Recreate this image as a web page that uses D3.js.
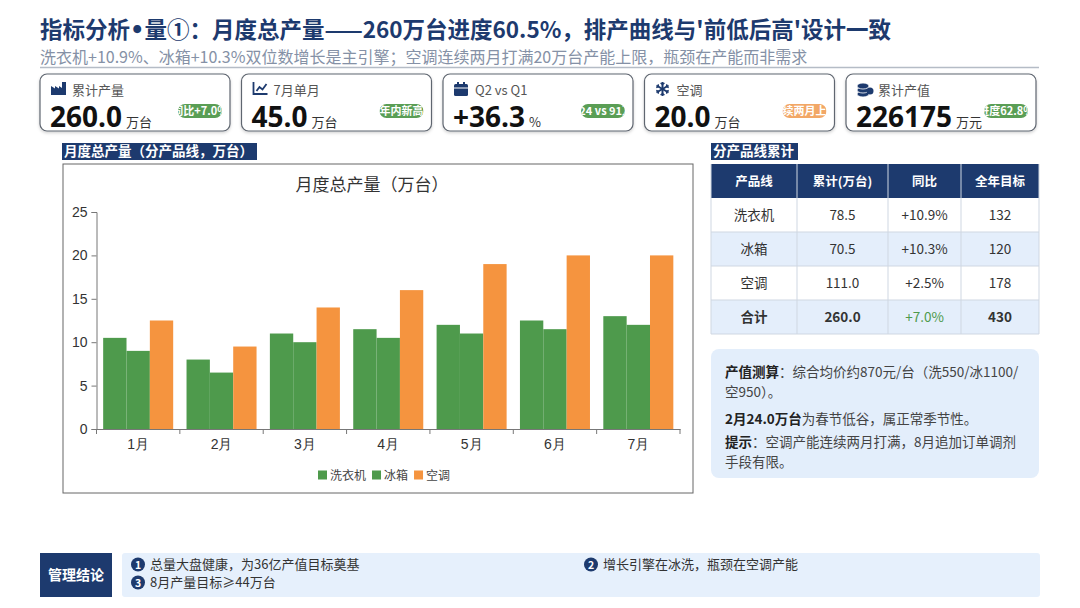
<!DOCTYPE html>
<html>
<head>
<meta charset="utf-8">
<script src="https://cdn.jsdelivr.net/npm/d3@7"></script>
<style>
  body { margin: 0; background: #fff; }
  svg { display: block; font-family: "Noto Sans CJK SC", "Noto Sans", sans-serif; }
</style>
</head>
<body>
<div id="canvas"></div>
<script>
"use strict"

/* chart data */
const months = ["1月", "2月", "3月", "4月", "5月", "6月", "7月"];
const seriesNames = ["洗衣机", "冰箱", "空调"];
const washer = [10.5, 8, 11, 11.5, 12, 12.5, 13];
const fridge = [9, 6.5, 10, 10.5, 11, 11.5, 12];
const aircon = [12.5, 9.5, 14, 16, 19, 20, 20];
const yTicks = [0, 5, 10, 15, 20, 25];

/* kpi cards */
const kpiLabels = ["累计产量", "7月单月", "Q2 vs Q1", "空调", "累计产值"];
const kpiValues = ["260.0", "45.0", "+36.3", "20.0", "226175"];
const kpiUnits = ["万台", "万台", "%", "万台", "万元"];
const kpiBadges = ["同比+7.0%", "年内新高", "124 vs 91万", "连续两月上限", "进度62.8%"];
const kpiBadgeKinds = ["good", "good", "good", "warn", "good"];

/* table */
const tableHeaders = ["产品线", "累计(万台)", "同比", "全年目标"];
const lineNames = ["洗衣机", "冰箱", "空调", "合计"];
const lineTotals = ["78.5", "70.5", "111.0", "260.0"];
const lineYoY = ["+10.9%", "+10.3%", "+2.5%", "+7.0%"];
const lineTargets = ["132", "120", "178", "430"];

/* footer conclusions */
const conclusions = ["总量大盘健康，为36亿产值目标奠基", "增长引擎在冰洗，瓶颈在空调产能", "8月产量目标≥44万台"];

const navy = "#1d3a6e";
const green = "#4e9a4c";
const orange = "#f5943f";

let drawing = d3.select("#canvas")
    .append("svg")
    .attr("width", 1080)
    .attr("height", 608);

let defs = drawing.append("defs");
let shadow = defs.append("filter").attr("id", "shadow").attr("x", "-10%").attr("y", "-10%").attr("width", "120%").attr("height", "140%");
shadow.append("feDropShadow").attr("dx", 0).attr("dy", 1.5).attr("stdDeviation", 1.5).attr("flood-color", "#000").attr("flood-opacity", 0.18);

/* ---------- header ---------- */
let title = drawing.append("text")
    .attr("x", 40).attr("y", 37.5)
    .attr("font-size", 22.5).attr("font-weight", "bold")
    .attr("fill", navy);
title.append("tspan").text("指标分析");
title.append("tspan").attr("font-family", "DejaVu Sans").text("•");
title.append("tspan").text("量①：月度总产量——260万台进度60.5%，排产曲线与'前低后高'设计一致");

drawing.append("text")
    .attr("x", 40).attr("y", 63)
    .attr("font-size", 16)
    .attr("fill", "#8591a6")
    .text("洗衣机+10.9%、冰箱+10.3%双位数增长是主引擎；空调连续两月打满20万台产能上限，瓶颈在产能而非需求");

drawing.append("line")
    .attr("x1", 40).attr("x2", 1039)
    .attr("y1", 67.5).attr("y2", 67.5)
    .attr("stroke", "#b5bcc6").attr("stroke-width", 1.5);

/* ---------- kpi cards ---------- */
function drawIcon(g, i, x, y) {
    if (i == 0) { // factory
        g.append("path")
            .attr("d", `M${x},${y + 13} V${y + 4} L${x + 4},${y + 6.5} V${y + 4} L${x + 8},${y + 6.5} V${y + 4} L${x + 11},${y + 6} V${y} H${x + 15} V${y + 13} Z`)
            .attr("fill", navy);
    } else if (i == 1) { // line chart
        g.append("path")
            .attr("d", `M${x + 1},${y} V${y + 12} H${x + 15}`)
            .attr("fill", "none").attr("stroke", navy).attr("stroke-width", 1.8);
        g.append("path")
            .attr("d", `M${x + 4},${y + 9} L${x + 7},${y + 5} L${x + 10},${y + 7.5} L${x + 14},${y + 2}`)
            .attr("fill", "none").attr("stroke", navy).attr("stroke-width", 1.8);
    } else if (i == 2) { // calendar
        g.append("rect").attr("x", x).attr("y", y + 2).attr("width", 14).attr("height", 12).attr("rx", 1.5).attr("fill", navy);
        g.append("rect").attr("x", x + 3).attr("y", y).attr("width", 2).attr("height", 4).attr("fill", navy);
        g.append("rect").attr("x", x + 9).attr("y", y).attr("width", 2).attr("height", 4).attr("fill", navy);
        g.append("line").attr("x1", x).attr("x2", x + 14).attr("y1", y + 6).attr("y2", y + 6).attr("stroke", "#fff").attr("stroke-width", 1);
    } else if (i == 3) { // snowflake
        let cx = x + 7, cy = y + 7;
        [30, 90, 150].forEach(a => {
            let r = a * Math.PI / 180;
            g.append("line")
                .attr("x1", cx - 7 * Math.cos(r)).attr("y1", cy - 7 * Math.sin(r))
                .attr("x2", cx + 7 * Math.cos(r)).attr("y2", cy + 7 * Math.sin(r))
                .attr("stroke", navy).attr("stroke-width", 2);
        });
        [30, 90, 150, 210, 270, 330].forEach(a => {
            let r = a * Math.PI / 180;
            let px = cx + 4.5 * Math.cos(r), py = cy + 4.5 * Math.sin(r);
            [r + 0.9, r - 0.9].forEach(b => {
                g.append("line")
                    .attr("x1", px).attr("y1", py)
                    .attr("x2", px + 2.5 * Math.cos(b)).attr("y2", py + 2.5 * Math.sin(b))
                    .attr("stroke", navy).attr("stroke-width", 1.3);
            });
        });
    } else { // coins
        [9, 5, 1].forEach(d => {
            g.append("ellipse").attr("cx", x + 6).attr("cy", y + d + 3).attr("rx", 6).attr("ry", 3)
                .attr("fill", navy).attr("stroke", "#fff").attr("stroke-width", 0.8);
        });
        g.append("circle").attr("cx", x + 13).attr("cy", y + 9).attr("r", 3.5).attr("fill", navy);
    }
}

const cardW = 190, cardH = 57, cardY = 74;
kpiLabels.forEach((label, i) => {
    let x0 = 40 + i * 201.5;
    let g = drawing.append("g");
    g.append("rect")
        .attr("x", x0).attr("y", cardY)
        .attr("width", cardW).attr("height", cardH)
        .attr("rx", 7)
        .attr("fill", "#fff")
        .attr("stroke", "#5f6670").attr("stroke-width", 1.2)
        .attr("filter", "url(#shadow)");

    drawIcon(g, i, x0 + 11, 82);

    g.append("text")
        .attr("x", x0 + 32).attr("y", 95)
        .attr("font-size", 13).attr("fill", "#555")
        .text(label);

    let val = g.append("text")
        .attr("x", x0 + 10).attr("y", 127)
        .attr("font-family", "'Open Sans', sans-serif")
        .attr("font-size", 28).attr("font-weight", "bold").attr("fill", "#111")
        .text(kpiValues[i]);
    let vw = val.node().getComputedTextLength();

    g.append("text")
        .attr("x", x0 + 10 + vw + 4).attr("y", 127)
        .attr("font-size", 13).attr("fill", "#333")
        .text(kpiUnits[i]);

    /* badge: text wider than the pill gets clipped */
    let bx = x0 + cardW - 52, by = 104, bw = 44, bh = 14;
    defs.append("clipPath").attr("id", "badge" + i)
        .append("rect").attr("x", bx).attr("y", by).attr("width", bw).attr("height", bh).attr("rx", 7);
    let bg = g.append("g").attr("clip-path", `url(#badge${i})`);
    bg.append("rect")
        .attr("x", bx).attr("y", by).attr("width", bw).attr("height", bh)
        .attr("fill", kpiBadgeKinds[i] == "warn" ? "#f2a766" : "#5a9e55");
    bg.append("text")
        .attr("x", bx + bw / 2).attr("y", by + 11)
        .attr("text-anchor", "middle")
        .attr("font-size", 11).attr("font-weight", "bold").attr("fill", "#fff")
        .text(kpiBadges[i]);
});

/* ---------- section tags ---------- */
function sectionTag(x, y, label) {
    let t = drawing.append("text")
        .attr("x", x + 2).attr("y", y + 13)
        .attr("font-size", 13.5).attr("font-weight", "bold").attr("fill", "#fff")
        .text(label);
    let w = t.node().getComputedTextLength();
    drawing.insert("rect", "text")
        .attr("x", x).attr("y", y)
        .attr("width", w + 6).attr("height", 17)
        .attr("fill", navy);
}
sectionTag(62, 143, "月度总产量（分产品线，万台）");
sectionTag(711, 143, "分产品线累计");

/* ---------- bar chart ---------- */
drawing.append("rect")
    .attr("x", 63).attr("y", 164)
    .attr("width", 630).attr("height", 329)
    .attr("fill", "#fff")
    .attr("stroke", "#666").attr("stroke-width", 1);

drawing.append("text")
    .attr("x", 372).attr("y", 191)
    .attr("text-anchor", "middle")
    .attr("font-size", 17).attr("fill", "#333")
    .text("月度总产量（万台）");

let x0 = d3.scaleBand()
    .domain(months)
    .range([96.5, 680])
    .paddingInner(0.16)
    .paddingOuter(0.08);

let x1 = d3.scaleBand()
    .domain(seriesNames)
    .range([0, x0.bandwidth()]);

let y = d3.scaleLinear()
    .domain([0, 25])
    .range([429, 212]);

let colors = d3.scaleOrdinal()
    .domain(seriesNames)
    .range([green, green, orange]);

let rows = months.map((m, i) => ({ month: m, values: [washer[i], fridge[i], aircon[i]] }));

drawing.append("g")
    .selectAll("g")
    .data(rows)
    .join("g")
    .attr("transform", d => `translate(${x0(d.month)},0)`)
    .selectAll("rect")
    .data(d => d.values.map((v, k) => ({ name: seriesNames[k], value: v })))
    .join("rect")
    .attr("x", d => x1(d.name))
    .attr("y", d => y(d.value))
    .attr("width", x1.bandwidth())
    .attr("height", d => y(0) - y(d.value))
    .attr("fill", d => colors(d.name));

/* y axis */
let yAxis = drawing.append("g")
    .attr("transform", "translate(96.5,0)")
    .call(d3.axisLeft(y).tickValues(yTicks).tickSize(5).tickPadding(4));
yAxis.selectAll("text").attr("font-size", 14).attr("fill", "#333").attr("font-family", "inherit");
yAxis.selectAll("line,path").attr("stroke", "#777");

/* x axis with ticks on band boundaries */
let xAxis = drawing.append("g")
    .attr("transform", "translate(0,429)")
    .call(d3.axisBottom(x0).tickSize(0).tickPadding(10));
xAxis.select(".domain").attr("stroke", "#777");
xAxis.selectAll("text").attr("font-size", 14).attr("fill", "#333").attr("font-family", "inherit");
let bounds = months.map(m => x0(m) - x0.step() * x0.paddingInner() / 2);
bounds.push(x0.range()[1]);
bounds[0] = x0.range()[0];
xAxis.selectAll(".bound")
    .data(bounds)
    .join("line")
    .attr("class", "bound")
    .attr("x1", d => d).attr("x2", d => d)
    .attr("y1", 0).attr("y2", 5)
    .attr("stroke", "#777");

/* legend */
let legend = drawing.append("g").attr("transform", "translate(318,475)");
let lx = 0;
seriesNames.forEach(name => {
    legend.append("rect")
        .attr("x", lx).attr("y", -4.5)
        .attr("width", 9).attr("height", 9)
        .attr("fill", colors(name));
    let t = legend.append("text")
        .attr("x", lx + 12).attr("y", 4.5)
        .attr("font-size", 12).attr("fill", "#444")
        .text(name);
    lx += 12 + t.node().getComputedTextLength() + 6;
});

/* ---------- table ---------- */
const colX = [711, 797, 888, 961, 1039];
const headY = 164, headH = 34, rowH = 34;
let table = drawing.append("g");

table.append("rect")
    .attr("x", colX[0]).attr("y", headY)
    .attr("width", colX[4] - colX[0]).attr("height", headH)
    .attr("fill", navy);

tableHeaders.forEach((h, c) => {
    table.append("text")
        .attr("x", (colX[c] + colX[c + 1]) / 2).attr("y", headY + headH / 2 + 4.5)
        .attr("text-anchor", "middle")
        .attr("font-size", 12.5).attr("font-weight", "bold").attr("fill", "#fff")
        .text(h);
});

lineNames.forEach((name, r) => {
    let ry = headY + headH + r * rowH;
    let isTotal = r == lineNames.length - 1;
    table.append("rect")
        .attr("x", colX[0]).attr("y", ry)
        .attr("width", colX[4] - colX[0]).attr("height", rowH)
        .attr("fill", r % 2 == 1 ? "#e4eefb" : "#fff");
    let cells = [name, lineTotals[r], lineYoY[r], lineTargets[r]];
    cells.forEach((v, c) => {
        table.append("text")
            .attr("x", (colX[c] + colX[c + 1]) / 2).attr("y", ry + rowH / 2 + 5)
            .attr("text-anchor", "middle")
            .attr("font-size", 13.5)
            .attr("font-weight", isTotal && c != 2 ? "bold" : "normal")
            .attr("fill", isTotal && c == 2 ? green : "#333")
            .text(v);
    });
});

/* grid lines */
let tableBottom = headY + headH + lineNames.length * rowH;
colX.forEach((cx, c) => {
    table.append("line")
        .attr("x1", cx).attr("x2", cx)
        .attr("y1", headY).attr("y2", tableBottom)
        .attr("stroke", "#cfd7e2").attr("stroke-width", 1);
});
lineNames.forEach((n, r) => {
    let ly = headY + headH + (r + 1) * rowH;
    table.append("line")
        .attr("x1", colX[0]).attr("x2", colX[4])
        .attr("y1", ly).attr("y2", ly)
        .attr("stroke", "#cfd7e2").attr("stroke-width", 1);
});

/* ---------- notes box ---------- */
drawing.append("rect")
    .attr("x", 711).attr("y", 349)
    .attr("width", 328).attr("height", 129)
    .attr("rx", 8)
    .attr("fill", "#e3eefb");

const noteLines = [
    { y: 377, parts: [["产值测算", true], ["：综合均价约870元/台（洗550/冰1100/", false]] },
    { y: 397, parts: [["空950）。", false]] },
    { y: 424, parts: [["2月24.0万台", true], ["为春节低谷，属正常季节性。", false]] },
    { y: 447, parts: [["提示", true], ["：空调产能连续两月打满，8月追加订单调剂", false]] },
    { y: 467, parts: [["手段有限。", false]] }
];
noteLines.forEach(line => {
    let t = drawing.append("text")
        .attr("x", 725).attr("y", line.y)
        .attr("font-size", 13.5).attr("fill", "#333");
    line.parts.forEach(p => {
        t.append("tspan")
            .attr("font-weight", p[1] ? "bold" : "normal")
            .attr("fill", p[1] ? "#222" : "#444")
            .text(p[0]);
    });
});

/* ---------- footer ---------- */
drawing.append("rect")
    .attr("x", 40).attr("y", 553)
    .attr("width", 72).attr("height", 44)
    .attr("fill", navy);
drawing.append("text")
    .attr("x", 76).attr("y", 580)
    .attr("text-anchor", "middle")
    .attr("font-size", 14).attr("font-weight", "bold").attr("fill", "#fff")
    .text("管理结论");

drawing.append("rect")
    .attr("x", 122).attr("y", 553)
    .attr("width", 918).attr("height", 44)
    .attr("rx", 3)
    .attr("fill", "#e6f0fc");

const conclusionPos = [[132, 569], [585, 569], [132, 587]];
conclusions.forEach((c, i) => {
    let [cx, cy] = conclusionPos[i];
    drawing.append("circle")
        .attr("cx", cx + 6).attr("cy", cy - 4.5)
        .attr("r", 7)
        .attr("fill", navy);
    drawing.append("text")
        .attr("x", cx + 6).attr("y", cy - 0.5)
        .attr("text-anchor", "middle")
        .attr("font-size", 10.5).attr("font-weight", "bold").attr("fill", "#fff")
        .text(i + 1);
    drawing.append("text")
        .attr("x", cx + 18).attr("y", cy)
        .attr("font-size", 13).attr("fill", "#333")
        .text(c);
});
</script>
</body>
</html>
